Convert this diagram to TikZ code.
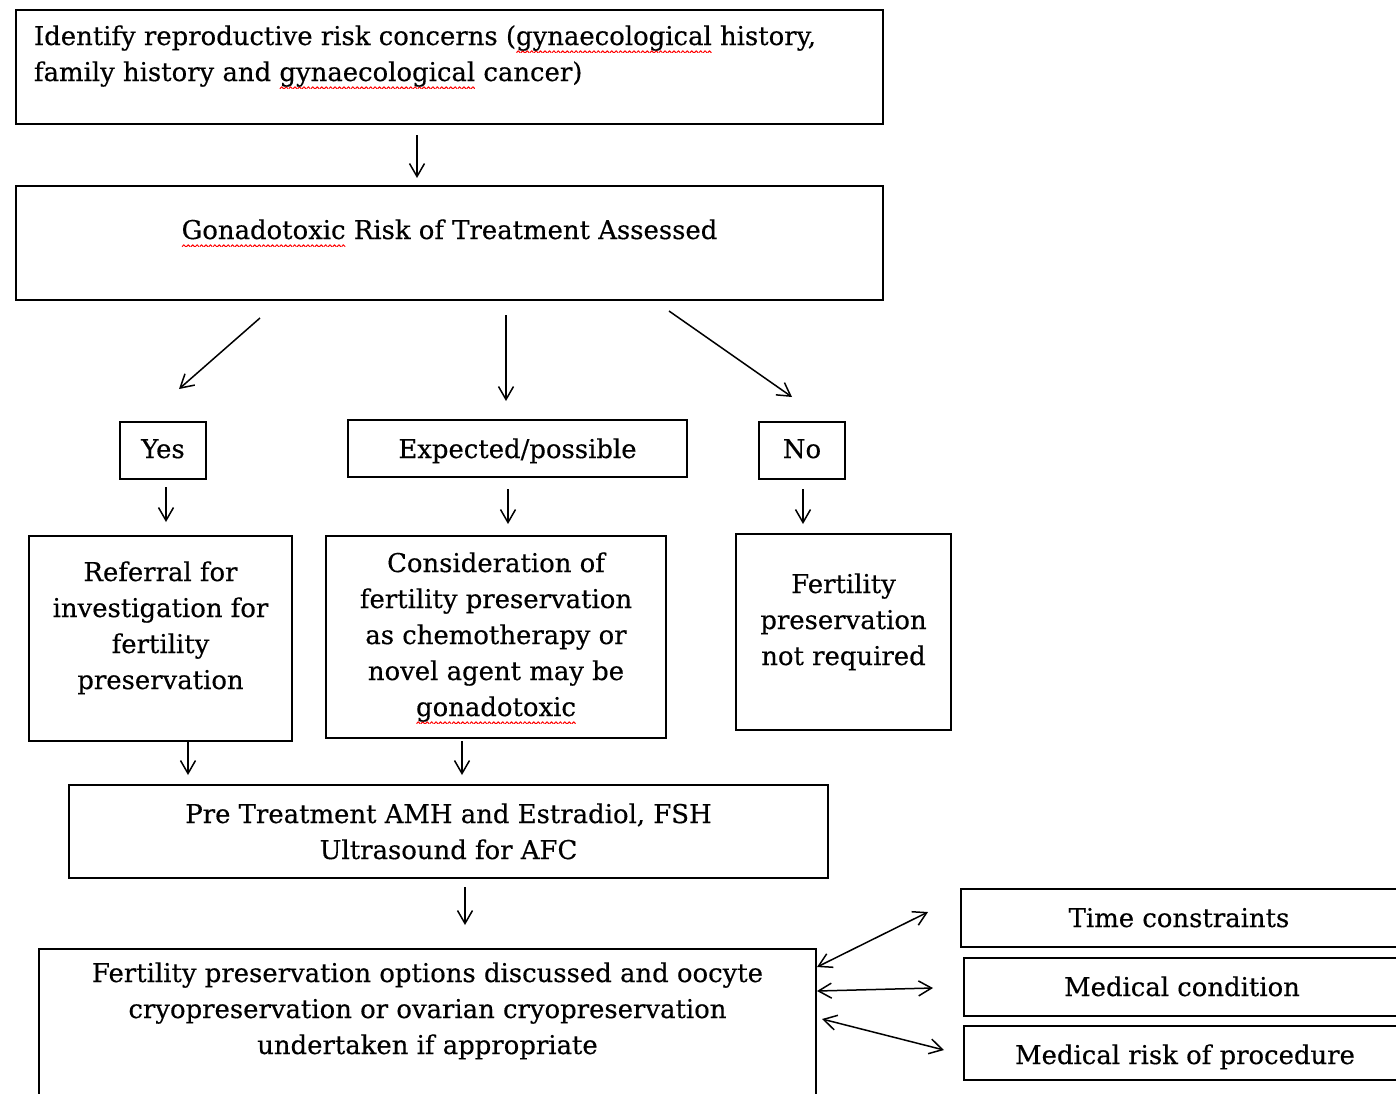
\documentclass[tikz,border=0pt]{standalone}
\usepackage{fontspec}
\setmainfont{DejaVu Serif}[FakeBold=0.4]
\usetikzlibrary{arrows.meta}

% red wavy spell-check underline
\newsavebox\spellbox
\newcommand\wavepiece{\tikz[x=1pt,y=1pt,baseline=0pt]\draw[red,line width=0.5pt,line cap=round,line join=round] (0,0)--(0.85,0.9)--(1.7,0);}
\newcommand\spellmark[1]{\leavevmode\sbox\spellbox{#1}\rlap{\lower3.8pt\hbox to\wd\spellbox{\xleaders\hbox{\wavepiece}\hfil}}\usebox\spellbox}

% text block of a box: width, height (px), alignment, first baseline (px), text
\newcommand\flowtext[5]{\parbox[c][\dimexpr #2pt/2\relax][t]{\dimexpr #1pt/2\relax}{#3\rule{0pt}{\dimexpr #4pt/2\relax}#5}}

\tikzset{
  flowbox/.style={draw, line width=1pt, inner sep=0pt, anchor=north west, fill=white,
    font=\fontsize{12.95}{18}\selectfont},
  flowarrow/.style={line width=0.75pt, -{Straight Barb[length=6.5pt,width=7.5pt]}},
  twoway/.style={line width=0.75pt, {Straight Barb[length=6.5pt,width=7.5pt]}-{Straight Barb[length=6.5pt,width=7.5pt]}}
}

\begin{document}
\begin{tikzpicture}[x=0.5pt, y=-0.5pt]
\useasboundingbox[fill=white] (0,0) rectangle (1396,1093);
\clip (0,0) rectangle (1396,1093);

% boxes
\node[flowbox] (risk) at (15,9) {\flowtext{867}{114}{\raggedright\leftskip=9pt}{35}{Identify reproductive risk concerns (\spellmark{gynaecological} history,\\ family history and \spellmark{gynaecological} cancer)}};
\node[flowbox] (assess) at (15,185) {\flowtext{867}{114}{\centering}{53}{\spellmark{Gonadotoxic} Risk of Treatment Assessed}};

\node[flowbox] (yes) at (119,421) {\flowtext{86}{57}{\centering}{36}{Yes}};
\node[flowbox] (maybe) at (347,419) {\flowtext{339}{57}{\centering}{38}{Expected/possible}};
\node[flowbox] (no) at (758,421) {\flowtext{86}{57}{\centering}{36}{No}};

\node[flowbox] (referral) at (28,535) {\flowtext{263}{205}{\centering}{45}{Referral for\\ investigation for\\ fertility\\ preservation}};
\node[flowbox] (consider) at (325,535) {\flowtext{340}{202}{\centering}{36}{Consideration of\\ fertility preservation\\ as chemotherapy or\\ novel agent may be\\ \spellmark{gonadotoxic}}};
\node[flowbox] (notreq) at (735,533) {\flowtext{215}{196}{\centering}{59}{Fertility\\ preservation\\ not required}};

\node[flowbox] (pretest) at (68,784) {\flowtext{759}{93}{\centering}{38}{Pre Treatment AMH and Estradiol, FSH\\ Ultrasound for AFC}};

\node[flowbox] (options) at (38,948) {\flowtext{777}{170}{\centering}{33}{Fertility preservation options discussed and oocyte\\ cryopreservation or ovarian cryopreservation\\ undertaken if appropriate}};

\node[flowbox] (time) at (960,888) {\flowtext{436}{58}{\centering}{38}{Time constraints}};
\node[flowbox] (cond) at (963,957) {\flowtext{436}{58}{\centering}{38}{Medical condition}};
\node[flowbox] (proc) at (963,1025) {\flowtext{442}{54}{\centering}{38}{Medical risk of procedure}};

% arrow end points
\coordinate (r1) at (417,135);  \coordinate (r2) at (417,178);
\coordinate (y1) at (260,318);  \coordinate (y2) at (179,389);
\coordinate (m1) at (506,315);  \coordinate (m2) at (506,401);
\coordinate (n1) at (669,311);  \coordinate (n2) at (792,397);
\coordinate (ya) at (166,487);  \coordinate (yb) at (166,522);
\coordinate (ma) at (508,489);  \coordinate (mb) at (508,524);
\coordinate (na) at (803,489);  \coordinate (nb) at (803,524);
\coordinate (fa) at (188,741);  \coordinate (fb) at (188,775);
\coordinate (ca) at (462,741);  \coordinate (cb) at (462,775);
\coordinate (pa) at (465,887);  \coordinate (pb) at (465,925);
\coordinate (t1) at (817,967);  \coordinate (t2) at (928,912);
\coordinate (c1) at (817,991);  \coordinate (c2) at (933,988);
\coordinate (k1) at (822,1019); \coordinate (k2) at (944,1050);

% connectors
\draw[flowarrow] (r1) -- (r2);
\draw[flowarrow] (y1) -- (y2);
\draw[flowarrow] (m1) -- (m2);
\draw[flowarrow] (n1) -- (n2);
\draw[flowarrow] (ya) -- (yb);
\draw[flowarrow] (ma) -- (mb);
\draw[flowarrow] (na) -- (nb);
\draw[flowarrow] (fa) -- (fb);
\draw[flowarrow] (ca) -- (cb);
\draw[flowarrow] (pa) -- (pb);
\draw[twoway] (t1) -- (t2);
\draw[twoway] (c1) -- (c2);
\draw[twoway] (k1) -- (k2);
\end{tikzpicture}
\end{document}
